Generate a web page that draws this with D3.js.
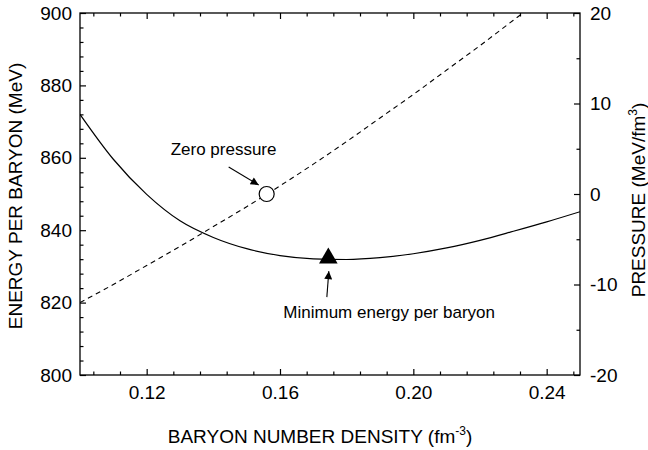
<!DOCTYPE html>
<html>
<head>
<meta charset="utf-8">
<script src="https://cdn.jsdelivr.net/npm/d3@7"></script>
<style>
  body { margin: 0; background: #fff; }
  text { font-family: "Liberation Sans", Arial, Helvetica, sans-serif; fill: #000; }
</style>
</head>
<body>
<script>
// values
var density  = [0.10, 0.11, 0.12, 0.13, 0.14, 0.15, 0.16, 0.17, 0.18, 0.19, 0.20, 0.21, 0.22, 0.23, 0.24, 0.25];
var energy   = [872, 859.6, 849.9, 842.6, 838.0, 834.9, 833.0, 832.1, 831.9, 832.4, 833.5, 835.1, 837.2, 839.7, 842.3, 845.1];
var pressure = [-12.0, -10.0, -7.9, -5.8, -3.6, -1.4, 0.9, 3.3, 5.8, 8.4, 11.0, 13.7, 16.4, 19.2, 22.0, 24.9];

var zeroPressure = {n: 0.156, p: 0};
var minEnergy = {n: 0.1745, e: 832};

var xTicks = [0.12, 0.16, 0.20, 0.24];
var yTicks = [800, 820, 840, 860, 880, 900];
var y2Ticks = [-20, -10, 0, 10, 20];

var margin = {top: 13, right: 68, bottom: 75, left: 80},
    width = 648 - margin.left - margin.right,
    height = 450 - margin.top - margin.bottom;

var svg = d3.select("body")
    .append("svg")
        .attr("width", 648)
        .attr("height", 450)
    .append("g")
        .attr("transform", "translate(" + margin.left + "," + margin.top + ")");

var x = d3.scaleLinear().domain([0.10, 0.25]).range([0, width]);
var y = d3.scaleLinear().domain([800, 900]).range([height, 0]);
var y2 = d3.scaleLinear().domain([-20, 20]).range([height, 0]);

svg.append("clipPath").attr("id", "clip")
    .append("rect").attr("width", width).attr("height", height);

// minor ticks (inward)
var xMinor = d3.range(0.104, 0.2501, 0.008).filter(function(v) {
    return xTicks.every(function(t) { return Math.abs(t - v) > 1e-6; });
});
var yMinor = d3.range(804, 900, 4).filter(function(v) { return v % 20 !== 0; });
var y2Minor = [-15, -5, 5, 15];

function styleAxis(g) {
    g.selectAll(".domain").remove();
    g.selectAll("line").attr("stroke", "#000").attr("stroke-width", 1.2);
    g.selectAll("text").style("font-size", "19px").style("font-family", "Liberation Sans, Arial, sans-serif");
}

svg.append("g").attr("transform", "translate(0," + height + ")")
    .call(d3.axisBottom(x).tickValues(xTicks).tickSize(-6).tickPadding(11).tickFormat(d3.format(".2f")))
    .call(styleAxis);
svg.append("g").attr("transform", "translate(0," + height + ")")
    .call(d3.axisBottom(x).tickValues(xMinor).tickSize(-3.5).tickFormat(""))
    .call(styleAxis);
svg.append("g")
    .call(d3.axisTop(x).tickValues(xTicks).tickSize(-6).tickFormat(""))
    .call(styleAxis);
svg.append("g")
    .call(d3.axisTop(x).tickValues(xMinor).tickSize(-3.5).tickFormat(""))
    .call(styleAxis);

svg.append("g")
    .call(d3.axisLeft(y).tickValues(yTicks).tickSize(-6).tickPadding(8))
    .call(styleAxis);
svg.append("g")
    .call(d3.axisLeft(y).tickValues(yMinor).tickSize(-3.5).tickFormat(""))
    .call(styleAxis);

svg.append("g").attr("transform", "translate(" + width + ",0)")
    .call(d3.axisRight(y2).tickValues(y2Ticks).tickSize(-6).tickPadding(10)
        .tickFormat(function(d) { return String(d); }))
    .call(styleAxis);
svg.append("g").attr("transform", "translate(" + width + ",0)")
    .call(d3.axisRight(y2).tickValues(y2Minor).tickSize(-3.5).tickFormat(""))
    .call(styleAxis);

// frame
svg.append("rect")
    .attr("width", width).attr("height", height)
    .attr("fill", "none").attr("stroke", "#000").attr("stroke-width", 1.3);

// curves
var energyLine = d3.line()
    .x(function(d, i) { return x(density[i]); })
    .y(function(d) { return y(d); })
    .curve(d3.curveMonotoneX);
var pressureLine = d3.line()
    .x(function(d, i) { return x(density[i]); })
    .y(function(d) { return y2(d); })
    .curve(d3.curveMonotoneX);

svg.append("path")
    .datum(energy)
    .attr("clip-path", "url(#clip)")
    .attr("d", energyLine)
    .attr("fill", "none").attr("stroke", "#000").attr("stroke-width", 1.2);

svg.append("path")
    .datum(pressure)
    .attr("clip-path", "url(#clip)")
    .attr("d", pressureLine)
    .attr("fill", "none").attr("stroke", "#000").attr("stroke-width", 1.1)
    .attr("stroke-dasharray", "5,4");

// markers
var cx = x(zeroPressure.n), cy = y2(zeroPressure.p);
svg.append("circle")
    .attr("cx", cx).attr("cy", cy).attr("r", 7.5)
    .attr("fill", "#fff").attr("stroke", "#000").attr("stroke-width", 1.2);

var tx = x(minEnergy.n), ty = y(minEnergy.e);
svg.append("path")
    .attr("d", d3.symbol().type(d3.symbolTriangle).size(150)())
    .attr("transform", "translate(" + tx + "," + (ty - 1) + ")")
    .attr("fill", "#000");

// arrows
svg.append("defs").append("marker")
    .attr("id", "arrow")
    .attr("viewBox", "0 0 10 10")
    .attr("refX", 10).attr("refY", 5)
    .attr("markerWidth", 10).attr("markerHeight", 8)
    .attr("markerUnits", "userSpaceOnUse")
    .attr("orient", "auto")
    .append("path").attr("d", "M0,0L10,5L0,10Z").attr("fill", "#000");

svg.append("line")
    .attr("x1", cx - 38).attr("y1", cy - 27)
    .attr("x2", cx - 8).attr("y2", cy - 9)
    .attr("stroke", "#000").attr("stroke-width", 1.1)
    .attr("marker-end", "url(#arrow)");

svg.append("line")
    .attr("x1", tx - 1.5).attr("y1", ty + 38)
    .attr("x2", tx + 0.5).attr("y2", ty + 12)
    .attr("stroke", "#000").attr("stroke-width", 1.1)
    .attr("marker-end", "url(#arrow)");

svg.append("text")
    .attr("x", cx - 96).attr("y", cy - 39)
    .style("font-size", "17px")
    .text("Zero pressure");

svg.append("text")
    .attr("x", tx - 45).attr("y", ty + 59)
    .style("font-size", "17px")
    .text("Minimum energy per baryon");

// axis titles
var xt = svg.append("text")
    .attr("x", width / 2 - 10).attr("y", height + 68)
    .attr("text-anchor", "middle")
    .style("font-size", "19px");
xt.append("tspan").text("BARYON NUMBER DENSITY (fm");
xt.append("tspan").attr("dy", -8).style("font-size", "12px").text("-3");
xt.append("tspan").attr("dy", 8).text(")");

svg.append("text")
    .attr("transform", "translate(" + (-58) + "," + (height / 2 + 2) + ") rotate(-90)")
    .attr("text-anchor", "middle")
    .style("font-size", "19px")
    .text("ENERGY PER BARYON (MeV)");

var yt2 = svg.append("text")
    .attr("transform", "translate(" + (width + 65) + "," + (height / 2 + 6) + ") rotate(-90)")
    .attr("text-anchor", "middle")
    .style("font-size", "19px");
yt2.append("tspan").text("PRESSURE (MeV/fm");
yt2.append("tspan").attr("dy", -8).style("font-size", "12px").text("3");
yt2.append("tspan").attr("dy", 8).text(")");
</script>
</body>
</html>
